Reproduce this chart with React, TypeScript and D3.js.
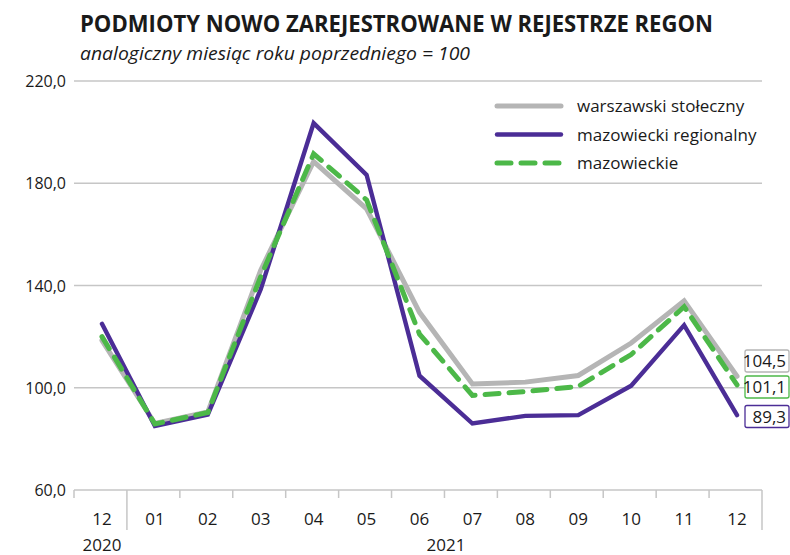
import React from 'react';
import * as d3 from 'd3';

const months = ['12', '01', '02', '03', '04', '05', '06', '07', '08', '09', '10', '11', '12'];
const years = [
  { label: '2020', from: 0, to: 0 },
  { label: '2021', from: 1, to: 12 },
];
const yTicks = [60, 100, 140, 180, 220];

const warszawski = [118.5, 86, 90.5, 146, 188.5, 170, 129.5, 101.5, 102.2, 104.8, 117.5, 134, 104.5];
const regionalny = [125, 85, 89.5, 138.5, 203.5, 183.3, 104.7, 86, 89, 89.3, 100.8, 124.5, 89.3];
const mazowieckie = [120, 85.8, 90.3, 143.5, 191.5, 173.5, 121, 97, 98.5, 100.5, 113, 131.7, 101.1];

const series = [
  { name: 'warszawski stołeczny', values: warszawski, color: '#b5b5b5', width: 5, dash: null as string | null },
  { name: 'mazowiecki regionalny', values: regionalny, color: '#4b2d96', width: 4.4, dash: null as string | null },
  { name: 'mazowieckie', values: mazowieckie, color: '#4cb848', width: 5, dash: '14 10' },
];

const W = 790;
const H = 555;
const font = "'Open Sans', 'Noto Sans', sans-serif";
const fmt = (v: number) => v.toFixed(1).replace('.', ',');

const App: React.FC = () => {
  const idx = months.map((_, i) => String(i));
  const x = d3.scaleBand<string>().domain(idx).range([74, 762]);
  const y = d3.scaleLinear().domain([60, 220]).range([490, 81]);
  const cx = (i: number) => (x(String(i)) ?? 0) + x.bandwidth() / 2 + 1.5;

  const line = d3.line<number>()
    .x((_, i) => cx(i))
    .y(d => y(d));

  // end labels: gray, green, purple stacked top to bottom
  const endLabels = [
    { s: series[0], cy: 361 },
    { s: series[2], cy: 387 },
    { s: series[1], cy: 416.5 },
  ];

  return (
    <svg width={W} height={H} style={{ position: 'absolute', left: 0, top: 0, background: '#fff' }}>
      <text x={80} y={32} fontFamily={font} fontWeight={700} fontSize={24} fill="#1a1a1a"
        textLength={633} lengthAdjust="spacingAndGlyphs">
        PODMIOTY NOWO ZAREJESTROWANE W REJESTRZE REGON
      </text>
      <text x={80} y={60} fontFamily={font} fontStyle="italic" fontSize={19} fill="#1a1a1a"
        textLength={390} lengthAdjust="spacingAndGlyphs">
        analogiczny miesiąc roku poprzedniego = 100
      </text>

      {/* grid + y labels */}
      {yTicks.map(t => (
        <g key={t}>
          <line x1={74} x2={762} y1={y(t)} y2={y(t)} stroke="#c6c6c6" strokeWidth={1.5} />
          <text x={66} y={y(t) + 6} textAnchor="end" fontFamily={font} fontSize={16} fill="#1a1a1a">
            {fmt(t)}
          </text>
        </g>
      ))}

      {/* x ticks */}
      {d3.range(months.length + 1).map(i => {
        const xx = 74 + i * x.bandwidth();
        const long = i === 1 || i === months.length;
        return (
          <line key={i} x1={xx} x2={xx} y1={y(60)} y2={long ? 530 : 498} stroke="#c6c6c6" strokeWidth={1.5} />
        );
      })}
      {months.map((m, i) => (
        <text key={i} x={cx(i)} y={525} textAnchor="middle" fontFamily={font} fontSize={17} fill="#1a1a1a">
          {m}
        </text>
      ))}
      {years.map(yr => (
        <text key={yr.label} x={(cx(yr.from) + cx(yr.to)) / 2} y={551} textAnchor="middle"
          fontFamily={font} fontSize={17} fill="#1a1a1a">
          {yr.label}
        </text>
      ))}

      {/* lines */}
      {[series[0], series[1], series[2]].map(s => (
        <path key={s.name} d={line(s.values) ?? ''} fill="none" stroke={s.color} strokeWidth={s.width}
          strokeDasharray={s.dash ?? undefined} strokeLinejoin="miter" strokeLinecap="round" />
      ))}

      {/* end labels */}
      {endLabels.map(({ s, cy }) => (
        <g key={s.name}>
          <rect x={745} y={cy - 11} width={44} height={22} rx={2} fill="#fff" stroke={s.color} strokeWidth={1.3} />
          <text x={786} y={cy + 6} textAnchor="end" fontFamily={font} fontSize={17} fill="#1a1a1a">
            {fmt(s.values[s.values.length - 1])}
          </text>
        </g>
      ))}

      {/* legend */}
      {series.map((s, i) => {
        const ly = 106 + i * 28.5;
        return (
          <g key={s.name}>
            <line x1={497} x2={561} y1={ly} y2={ly} stroke={s.color} strokeWidth={s.width}
              strokeDasharray={s.dash ?? undefined} strokeLinecap="round" />
            <text x={577} y={ly + 6} fontFamily={font} fontSize={17} fill="#1a1a1a">{s.name}</text>
          </g>
        );
      })}
    </svg>
  );
};

export default App;
